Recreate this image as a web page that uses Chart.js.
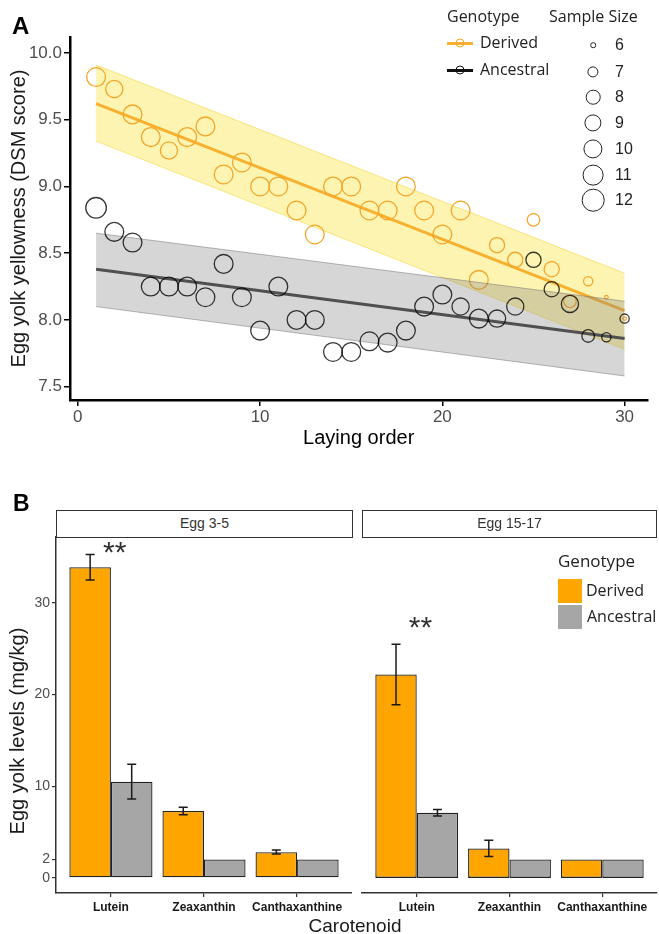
<!DOCTYPE html>
<html>
<head>
<meta charset="utf-8">
<script src="https://cdn.jsdelivr.net/npm/chart.js@4.4.1/dist/chart.umd.min.js"></script>
<style>
  body { margin: 0; background: #fff; width: 659px; height: 934px; position: relative; overflow: hidden;
         font-family: 'Liberation Sans', Arial, sans-serif; }
  canvas { position: absolute; }
  .t { position: absolute; white-space: nowrap; line-height: 1; }
  .leg { font-family: 'Open Sans', sans-serif; color: #222; }
  .strip { position: absolute; box-sizing: border-box; border: 1.5px solid #333; background: #fff;
           font-size: 14px; color: #333; text-align: center; line-height: 24px; }
  .dot { position: absolute; border: 1.2px solid #222; border-radius: 50%; transform: translate(-50%, -50%); }
</style>
</head>
<body>
<canvas id="chartA" width="659" height="460" style="left:0;top:0"></canvas>
<canvas id="chartB1" width="352" height="417" style="left:0;top:517px"></canvas>
<canvas id="chartB2" width="302" height="417" style="left:357px;top:517px"></canvas>

<div class="t" style="left:12px;top:14px;font-size:24px;font-weight:bold">A</div>
<div class="t" style="left:13px;top:492px;font-size:23px;font-weight:bold">B</div>

<!-- legend panel A -->
<div class="t leg" style="left:447px;top:8px;font-size:16px">Genotype</div>
<div class="t leg" style="left:549px;top:8px;font-size:16px">Sample Size</div>
<div style="position:absolute;left:447px;top:41.5px;width:26px;height:3px;background:#F7B02F"></div>
<div class="dot" style="left:460px;top:43px;width:7px;height:7px;border-color:#F5A52A"></div>
<div class="t leg" style="left:480px;top:34px;font-size:16px">Derived</div>
<div style="position:absolute;left:447px;top:68.5px;width:26px;height:3px;background:#111"></div>
<div class="dot" style="left:460px;top:70px;width:7px;height:7px;border-color:#111"></div>
<div class="t leg" style="left:480px;top:61px;font-size:16px">Ancestral</div>
<div id="sizeLegend"></div>

<!-- panel B strips, legend, titles -->
<div class="strip" style="left:56px;top:510px;width:297px;height:28px">Egg 3-5</div>
<div class="strip" style="left:362px;top:510px;width:295px;height:28px">Egg 15-17</div>
<div class="t leg" style="left:558px;top:552px;font-size:17px">Genotype</div>
<div style="position:absolute;left:558px;top:579px;width:24px;height:24px;background:#FFA500"></div>
<div style="position:absolute;left:558px;top:605px;width:24px;height:24px;background:#A6A6A6"></div>
<div class="t leg" style="left:586px;top:582px;font-size:16px">Derived</div>
<div class="t leg" style="left:587px;top:608px;font-size:16px">Ancestral</div>
<div class="t" style="left:17px;top:731px;font-size:20px;color:#1a1a1a;transform:translate(-50%,-50%) rotate(-90deg)">Egg yolk levels (mg/kg)</div>
<div class="t" style="left:355px;top:925px;font-size:19px;color:#1a1a1a;transform:translate(-50%,-50%)">Carotenoid</div>

<script>
// Panel A: egg yolk yellowness by laying order
const layingOrder = [1, 2, 3, 4, 5, 6, 7, 8, 9, 10, 11, 12, 13, 14, 15, 16, 17, 18, 19, 20, 21, 22, 23, 24, 25, 26, 27, 28, 29, 30];
const derivedScore = [9.82, 9.73, 9.54, 9.37, 9.27, 9.37, 9.45, 9.09, 9.18, 9.00, 9.00, 8.82, 8.64, 9.00, 9.00,
                      8.82, 8.82, 9.00, 8.82, 8.64, 8.82, 8.30, 8.56, 8.45, 8.75, 8.38, 8.14, 8.29, 8.17, 8.01];
const derivedN = [11, 10, 11, 11, 10, 11, 11, 11, 11, 11, 11, 11, 11, 11, 11,
                  11, 11, 11, 11, 11, 11, 11, 9, 9, 8, 9, 8, 7, 6, 6];
const ancestralScore = [8.84, 8.66, 8.58, 8.25, 8.25, 8.25, 8.17, 8.42, 8.17, 7.92, 8.25, 8.00, 8.00, 7.76, 7.76,
                        7.84, 7.83, 7.92, 8.10, 8.19, 8.10, 8.01, 8.01, 8.10, 8.45, 8.23, 8.12, 7.88, 7.87, 8.01];
const ancestralN = [12, 11, 11, 11, 11, 11, 11, 11, 11, 11, 11, 11, 11, 11, 11,
                    11, 11, 11, 11, 11, 10, 11, 10, 10, 9, 9, 10, 8, 7, 7];

// fitted lines and their bands, at first and last egg
const fitX = [1, 30];
const derivedFit = [9.62, 8.07];
const derivedUpper = [9.91, 8.35];
const derivedLower = [9.34, 7.78];
const ancestralFit = [8.38, 7.86];
const ancestralUpper = [8.65, 8.14];
const ancestralLower = [8.10, 7.58];

const xTicksA = [0, 10, 20, 30];
const yTicksA = [7.5, 8.0, 8.5, 9.0, 9.5, 10.0];

const sampleSizes = [6, 7, 8, 9, 10, 11, 12];
const sizeRadius = [1.8, 4.6, 6.3, 7.6, 8.6, 9.4, 10.3];
const sizeLegendY = [45, 72, 97, 123, 149, 175, 200];

// Panel B: carotenoid levels
const carotenoids = ['Lutein', 'Zeaxanthin', 'Canthaxanthine'];
const carotenoidPos = [0, 1, 2];
const yTicksB = [0, 2, 10, 20, 30];

const egg35Derived = [33.9, 7.3, 2.8];
const egg35DerivedLo = [32.5, 6.9, 2.6];
const egg35DerivedHi = [35.3, 7.7, 3.05];
const egg35Ancestral = [10.5, 2.0, 2.0];
const egg35AncestralLo = [8.6, null, null];
const egg35AncestralHi = [12.4, null, null];

const egg1517Derived = [22.2, 3.2, 2.0];
const egg1517DerivedLo = [18.9, 2.33, null];
const egg1517DerivedHi = [25.5, 4.1, null];
const egg1517Ancestral = [7.1, 2.0, 2.0];
const egg1517AncestralLo = [6.76, null, null];
const egg1517AncestralHi = [7.45, null, null];

const egg35Star = [0.04, 35.7];
const egg1517Star = [0.04, 27.5];

const ORANGE_PT = '#F5A52A';
const ORANGE_LINE = '#F7B02F';

// sample size legend
const legendBox = document.getElementById('sizeLegend');
sampleSizes.forEach((n, i) => {
    const d = document.createElement('div');
    d.className = 'dot';
    d.style.left = '593px';
    d.style.top = sizeLegendY[i] + 'px';
    d.style.width = d.style.height = (sizeRadius[i] * 2) + 'px';
    legendBox.appendChild(d);
    const lab = document.createElement('div');
    lab.className = 't';
    lab.style.left = '615px';
    lab.style.top = (sizeLegendY[i] - 8) + 'px';
    lab.style.fontSize = '16px';
    lab.style.color = '#222';
    lab.textContent = n;
    legendBox.appendChild(lab);
});

function radiusFor(n) {
    return sizeRadius[sampleSizes.indexOf(n)];
}
function pts(xs, ys) {
    return xs.map((x, i) => ({ x: x, y: ys[i] }));
}

Chart.defaults.font.family = "'Liberation Sans', Arial, sans-serif";
Chart.defaults.animation = false;

const lineSet = (data, color, width, order, extra) => Object.assign({
    data: data, showLine: true, borderColor: color, borderWidth: width,
    pointRadius: 0, fill: false, order: order
}, extra || {});

new Chart(document.getElementById('chartA'), {
    type: 'scatter',
    data: {
        datasets: [
            lineSet(pts(fitX, derivedUpper), 'rgba(240,212,50,0.55)', 1, 9,
                    { fill: '+1', backgroundColor: 'rgba(250,225,50,0.38)' }),
            lineSet(pts(fitX, derivedLower), 'rgba(240,212,50,0.55)', 1, 9),
            lineSet(pts(fitX, derivedFit), ORANGE_LINE, 3, 8),
            {
                data: pts(layingOrder, derivedScore), order: 7,
                pointRadius: derivedN.map(radiusFor), pointBorderColor: ORANGE_PT,
                pointBackgroundColor: 'rgba(0,0,0,0)', pointBorderWidth: 1.3
            },
            lineSet(pts(fitX, ancestralUpper), 'rgba(120,120,120,0.55)', 1, 6,
                    { fill: '+1', backgroundColor: 'rgba(130,130,130,0.33)' }),
            lineSet(pts(fitX, ancestralLower), 'rgba(120,120,120,0.55)', 1, 6),
            lineSet(pts(fitX, ancestralFit), '#505050', 3, 5),
            {
                data: pts(layingOrder, ancestralScore), order: 4,
                pointRadius: ancestralN.map(radiusFor), pointBorderColor: 'rgba(0,0,0,0.78)',
                pointBackgroundColor: 'rgba(0,0,0,0)', pointBorderWidth: 1.3
            }
        ]
    },
    options: {
        responsive: false,
        events: [],
        layout: { padding: { top: 37, right: 4, left: 0, bottom: 0 } },
        plugins: { legend: { display: false }, tooltip: { enabled: false } },
        scales: {
            x: {
                type: 'linear', min: -0.43, max: 31.25,
                afterFit: s => { s.height = 60; },
                afterBuildTicks: s => { s.ticks = xTicksA.map(v => ({ value: v })); },
                ticks: { color: '#4d4d4d', font: { size: 17 }, padding: 1 },
                grid: { drawOnChartArea: false, drawTicks: true, tickLength: 6, color: '#000', lineWidth: 1.5 },
                border: { display: true, color: '#000', width: 2.5 },
                title: { display: true, text: 'Laying order', color: '#000', font: { size: 20 }, padding: { bottom: 10 } }
            },
            y: {
                type: 'linear', min: 7.40, max: 10.12,
                afterFit: s => { s.width = 70; },
                afterBuildTicks: s => { s.ticks = yTicksA.map(v => ({ value: v })); },
                ticks: { color: '#4d4d4d', font: { size: 17 }, padding: 2, callback: v => v.toFixed(1) },
                grid: { drawOnChartArea: false, drawTicks: true, tickLength: 6, color: '#000', lineWidth: 1.5 },
                border: { display: true, color: '#000', width: 2.5 },
                title: { display: true, text: 'Egg yolk yellowness (DSM score)', color: '#1a1a1a', font: { size: 20 }, padding: { top: 7 } }
            }
        }
    }
});

// error bars and significance stars for panel B
const errorBars = {
    id: 'errorBars',
    afterDatasetsDraw(chart, args, opts) {
        const ctx = chart.ctx;
        const xs = chart.scales.x, ys = chart.scales.y;
        ctx.save();
        ctx.strokeStyle = '#1a1a1a';
        ctx.lineWidth = 1.5;
        chart.data.datasets.forEach((ds, i) => {
            const meta = chart.getDatasetMeta(i);
            meta.data.forEach((bar, j) => {
                if (ds.errLo[j] == null) return;
                const x = bar.x;
                const y1 = ys.getPixelForValue(ds.errLo[j]);
                const y2 = ys.getPixelForValue(ds.errHi[j]);
                ctx.beginPath();
                ctx.moveTo(x, y1); ctx.lineTo(x, y2);
                ctx.moveTo(x - 4.5, y1); ctx.lineTo(x + 4.5, y1);
                ctx.moveTo(x - 4.5, y2); ctx.lineTo(x + 4.5, y2);
                ctx.stroke();
            });
        });
        if (opts.star) {
            ctx.fillStyle = '#333';
            ctx.font = "30px 'Liberation Sans', Arial, sans-serif";
            ctx.textAlign = 'center';
            ctx.textBaseline = 'alphabetic';
            ctx.fillText('**', xs.getPixelForValue(opts.star[0]), ys.getPixelForValue(opts.star[1]) + 11);
        }
        ctx.restore();
    }
};

function barChart(canvasId, derived, dLo, dHi, ancestral, aLo, aHi, star, showY, pad) {
    return new Chart(document.getElementById(canvasId), {
        type: 'bar',
        data: {
            datasets: [
                {
                    data: pts(carotenoidPos, derived), errLo: dLo, errHi: dHi,
                    backgroundColor: '#FFA500', borderColor: '#222', borderWidth: 1.3, borderSkipped: false
                },
                {
                    data: pts(carotenoidPos, ancestral), errLo: aLo, errHi: aHi,
                    backgroundColor: '#A6A6A6', borderColor: '#222', borderWidth: 1.3, borderSkipped: false
                }
            ]
        },
        options: {
            responsive: false,
            events: [],
            categoryPercentage: 0.893,
            barPercentage: 1.0,
            layout: { padding: pad },
            plugins: { legend: { display: false }, tooltip: { enabled: false }, errorBars: { star: star } },
            scales: {
                x: {
                    type: 'linear', min: -0.59, max: 2.59, offset: false,
                    afterFit: s => { s.height = 41; },
                    afterBuildTicks: s => { s.ticks = carotenoidPos.map(v => ({ value: v })); },
                    ticks: { color: '#1a1a1a', font: { size: 12, weight: 'bold' }, padding: 3,
                             maxRotation: 0, minRotation: 0, autoSkip: false,
                             callback: v => carotenoids[v] },
                    grid: { offset: false, drawOnChartArea: false, drawTicks: true, tickLength: 4, color: '#333', lineWidth: 1.2 },
                    border: { display: true, color: '#333', width: 1.5 }
                },
                y: {
                    display: showY,
                    type: 'linear', min: -1.65, max: 37.2,
                    afterFit: s => { s.width = showY ? 56 : 0; },
                    afterBuildTicks: s => { s.ticks = yTicksB.map(v => ({ value: v })); },
                    ticks: { color: '#4d4d4d', font: { size: 14 }, padding: 2 },
                    grid: { drawOnChartArea: false, drawTicks: true, tickLength: 4, color: '#333', lineWidth: 1.2 },
                    border: { display: true, color: '#333', width: 1.5 }
                }
            }
        },
        plugins: [errorBars]
    });
}

barChart('chartB1', egg35Derived, egg35DerivedLo, egg35DerivedHi,
         egg35Ancestral, egg35AncestralLo, egg35AncestralHi, egg35Star, true,
         { top: 20, right: 0, left: 0, bottom: 0 });
barChart('chartB2', egg1517Derived, egg1517DerivedLo, egg1517DerivedHi,
         egg1517Ancestral, egg1517AncestralLo, egg1517AncestralHi, egg1517Star, false,
         { top: 20, right: 2, left: 5, bottom: 0 });
</script>
</body>
</html>
